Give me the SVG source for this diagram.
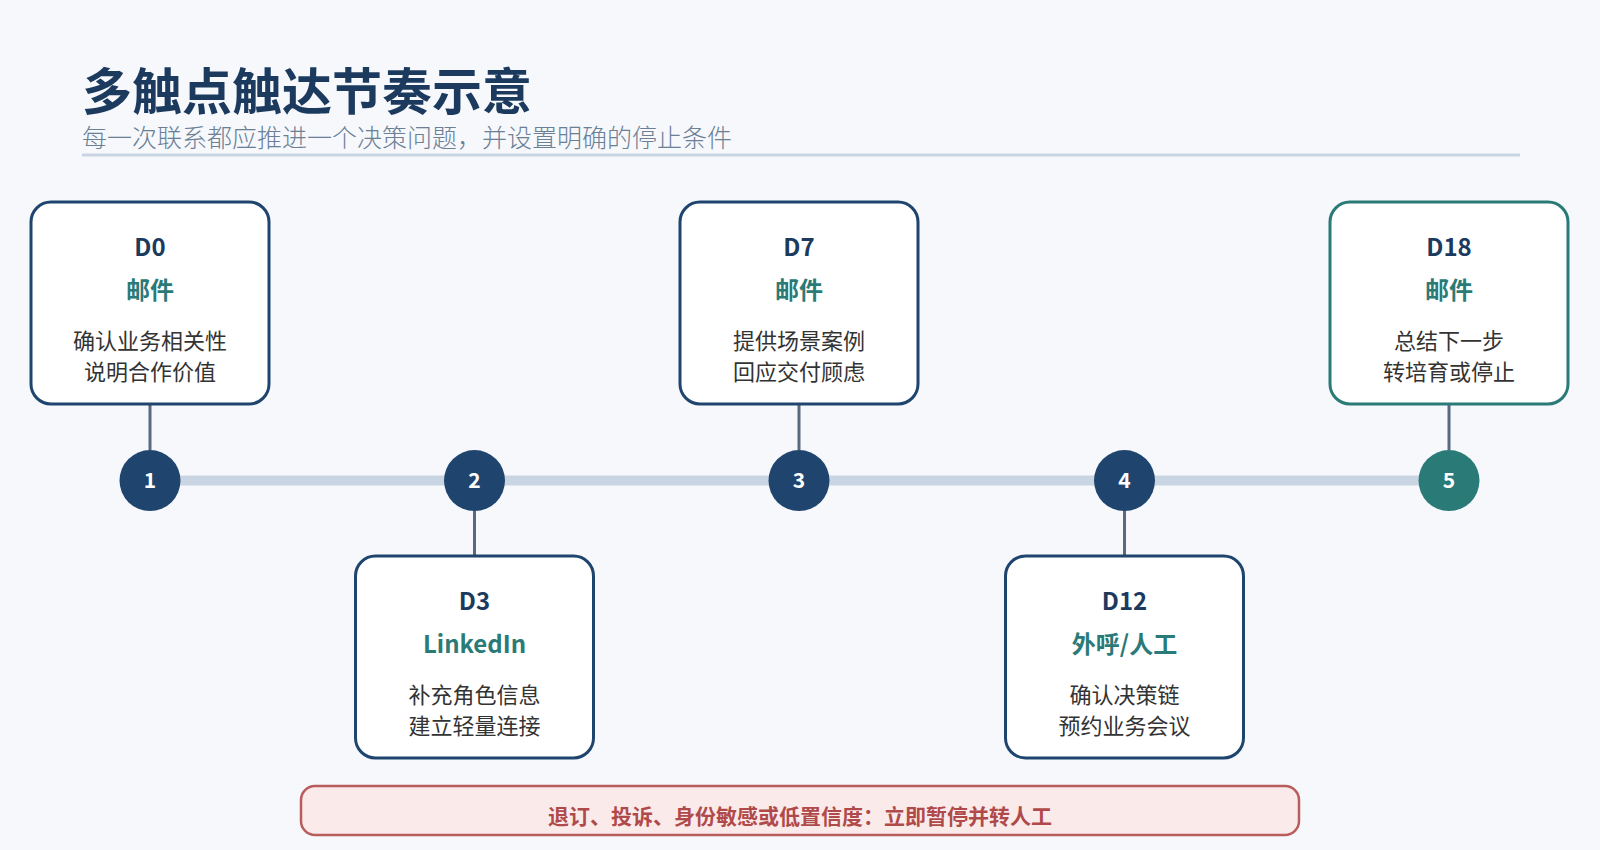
<svg xmlns="http://www.w3.org/2000/svg" width="1600" height="850" viewBox="0 0 1600 850">
<style>
text{font-family:"Noto Sans CJK SC","Noto Sans",sans-serif;text-anchor:middle}
.box{fill:#fff;stroke:#1f456e;stroke-width:3}
.boxt{fill:#fff;stroke:#2a7a78;stroke-width:3}
.day{font-size:24px;font-weight:700;fill:#1b3a5e}
.ch{font-size:24px;font-weight:700;fill:#2a7a78}
.body{font-size:22px;fill:#333}
.num{font-size:21px;font-weight:700;fill:#fff}
.stem{stroke:#5a6a7e;stroke-width:3}
</style>
<rect width="1600" height="850" fill="#f6f8fc"/>
<text x="82" y="110" style="text-anchor:start;font-size:50px;font-weight:700;fill:#1b3a5e">多触点触达节奏示意</text>
<text x="82" y="147" style="text-anchor:start;font-size:25px;font-weight:300;fill:#6b7f95">每一次联系都应推进一个决策问题，并设置明确的停止条件</text>
<line x1="82" y1="155" x2="1520" y2="155" stroke="#c9d5e2" stroke-width="3"/>
<g id="connectors">
<line x1="150" y1="480.6" x2="1449" y2="480.6" stroke="#c9d5e2" stroke-width="10"/>
<line class="stem" x1="150" y1="404" x2="150" y2="450"/>
<line class="stem" x1="474.5" y1="511" x2="474.5" y2="556"/>
<line class="stem" x1="799" y1="404" x2="799" y2="450"/>
<line class="stem" x1="1124.5" y1="511" x2="1124.5" y2="556"/>
<line class="stem" x1="1449" y1="404" x2="1449" y2="450"/>
</g>
<g id="c1"><circle cx="150" cy="480.6" r="30.5" fill="#1f456e"/><text class="num" x="150" y="488">1</text></g>
<g id="c2"><circle cx="474.5" cy="480.6" r="30.5" fill="#1f456e"/><text class="num" x="474.5" y="488">2</text></g>
<g id="c3"><circle cx="799" cy="480.6" r="30.5" fill="#1f456e"/><text class="num" x="799" y="488">3</text></g>
<g id="c4"><circle cx="1124.5" cy="480.6" r="30.5" fill="#1f456e"/><text class="num" x="1124.5" y="488">4</text></g>
<g id="c5"><circle cx="1449" cy="480.6" r="30.5" fill="#2a7a78"/><text class="num" x="1449" y="488">5</text></g>
<g id="n1"><rect class="box" x="31" y="202" width="238" height="202" rx="20"/>
<text class="day" x="150" y="256">D0</text><text class="ch" x="150" y="299">邮件</text>
<text class="body" x="150" y="349">确认业务相关性</text><text class="body" x="150" y="380">说明合作价值</text></g>
<g id="n2"><rect class="box" x="355.5" y="556" width="238" height="202" rx="20"/>
<text class="day" x="474.5" y="610">D3</text><text class="ch" x="474.5" y="653">LinkedIn</text>
<text class="body" x="474.5" y="703">补充角色信息</text><text class="body" x="474.5" y="734">建立轻量连接</text></g>
<g id="n3"><rect class="box" x="680" y="202" width="238" height="202" rx="20"/>
<text class="day" x="799" y="256">D7</text><text class="ch" x="799" y="299">邮件</text>
<text class="body" x="799" y="349">提供场景案例</text><text class="body" x="799" y="380">回应交付顾虑</text></g>
<g id="n4"><rect class="box" x="1005.5" y="556" width="238" height="202" rx="20"/>
<text class="day" x="1124.5" y="610">D12</text><text class="ch" x="1124.5" y="653">外呼/人工</text>
<text class="body" x="1124.5" y="703">确认决策链</text><text class="body" x="1124.5" y="734">预约业务会议</text></g>
<g id="n5"><rect class="boxt" x="1330" y="202" width="238" height="202" rx="20"/>
<text class="day" x="1449" y="256">D18</text><text class="ch" x="1449" y="299">邮件</text>
<text class="body" x="1449" y="349">总结下一步</text><text class="body" x="1449" y="380">转培育或停止</text></g>
<g id="banner"><rect x="301" y="786" width="998" height="49" rx="14" fill="#fbeaea" stroke="#b85c5c" stroke-width="2.5"/>
<text x="800" y="824" style="font-size:21px;font-weight:700;fill:#b04a4a">退订、投诉、身份敏感或低置信度：立即暂停并转人工</text></g>
</svg>
